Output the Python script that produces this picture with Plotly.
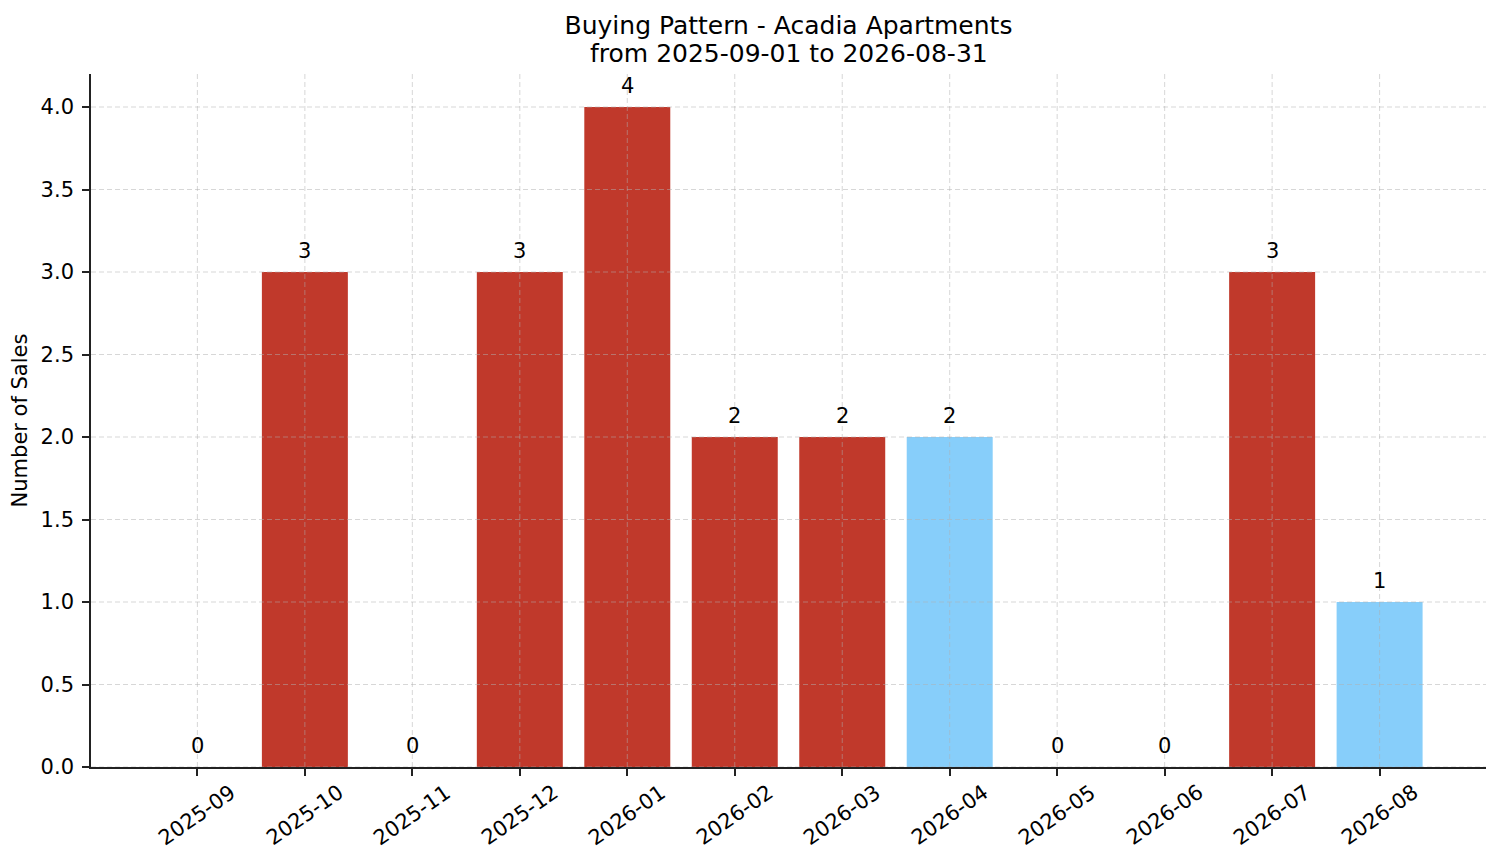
import numpy as np
import plotly.graph_objects as go

# data
months = ["2025-09", "2025-10", "2025-11", "2025-12", "2026-01", "2026-02",
          "2026-03", "2026-04", "2026-05", "2026-06", "2026-07", "2026-08"]
sales = [0, 3, 0, 3, 4, 2, 2, 2, 0, 0, 3, 1]
highlight = ["2026-04", "2026-08"]  # drawn in light blue
y_ticks = [0.0, 0.5, 1.0, 1.5, 2.0, 2.5, 3.0, 3.5, 4.0]
title_lines = ["Buying Pattern - Acadia Apartments", "from 2025-09-01 to 2026-08-31"]

RED = "#C0392B"
BLUE = "#87CEFA"
FONT = "DejaVu Sans"
GRID = "rgba(176,176,176,0.5)"

colors = [BLUE if m in highlight else RED for m in months]

fig = go.Figure()
fig.add_trace(go.Bar(x=months, y=sales, width=0.8, marker=dict(color=colors, line=dict(width=0)),
                     showlegend=False, hoverinfo="x+y"))

# dashed grid drawn above the bars (matplotlib style)
shapes = []
for yv in y_ticks:
    shapes.append(dict(type="line", xref="paper", yref="y", x0=0, x1=1, y0=yv, y1=yv,
                       line=dict(color=GRID, width=1, dash="5px,3px"), layer="above"))
for m in months:
    shapes.append(dict(type="line", xref="x", yref="paper", x0=m, x1=m, y0=0, y1=1,
                       line=dict(color=GRID, width=1, dash="5px,3px"), layer="above"))

annotations = []
# value labels above each bar
for m, v in zip(months, sales):
    annotations.append(dict(x=m, y=v, xref="x", yref="y", text=str(v), showarrow=False,
                            xanchor="center", yanchor="bottom", yshift=7,
                            font=dict(family=FONT, size=21, color="black")))
# rotated month labels, centred under each tick
for m in months:
    annotations.append(dict(x=m, y=0, xref="x", yref="paper", text=m, showarrow=False,
                            textangle=-35, xanchor="center", yanchor="middle", yshift=-48,
                            font=dict(family=FONT, size=21, color="black")))
# second title line (tighter line spacing than a <br> title)
annotations.append(dict(x=0.5, y=1, xref="paper", yref="paper", text=title_lines[1],
                        showarrow=False, xanchor="center", yanchor="middle", yshift=21,
                        font=dict(family=FONT, size=25, color="black")))

fig.update_layout(
    width=1501, height=863,
    margin=dict(l=83, r=23, t=66, b=104, autoexpand=False),
    paper_bgcolor="white", plot_bgcolor="white",
    font=dict(family=FONT, size=21, color="black"),
    title=dict(text=title_lines[0],
               x=0.5, xref="paper", xanchor="center",
               y=1 - 17 / 863, yref="container", yanchor="middle",
               font=dict(family=FONT, size=25, color="black")),
    shapes=shapes, annotations=annotations,
    bargap=0.2,
)
fig.update_xaxes(type="category", range=[-0.99, len(months) - 0.01], showgrid=False,
                 showline=True, linecolor="#222", linewidth=1.6, ticks="outside",
                 ticklen=7, tickwidth=1.6, tickcolor="#222", showticklabels=False,
                 zeroline=False, automargin=False)
fig.update_yaxes(range=[0, 4.2], tickvals=y_ticks, ticktext=[f"{t:.1f}" for t in y_ticks],
                 showgrid=False, showline=True, linecolor="#222", linewidth=1.6,
                 ticks="outside", ticklen=7, tickwidth=1.6, tickcolor="#222",
                 tickfont=dict(family=FONT, size=21, color="black"), ticklabelstandoff=4,
                 zeroline=False, automargin=False,
                 title=dict(text="Number of Sales", standoff=8,
                            font=dict(family=FONT, size=21, color="black")))

fig.write_html("out.html")
